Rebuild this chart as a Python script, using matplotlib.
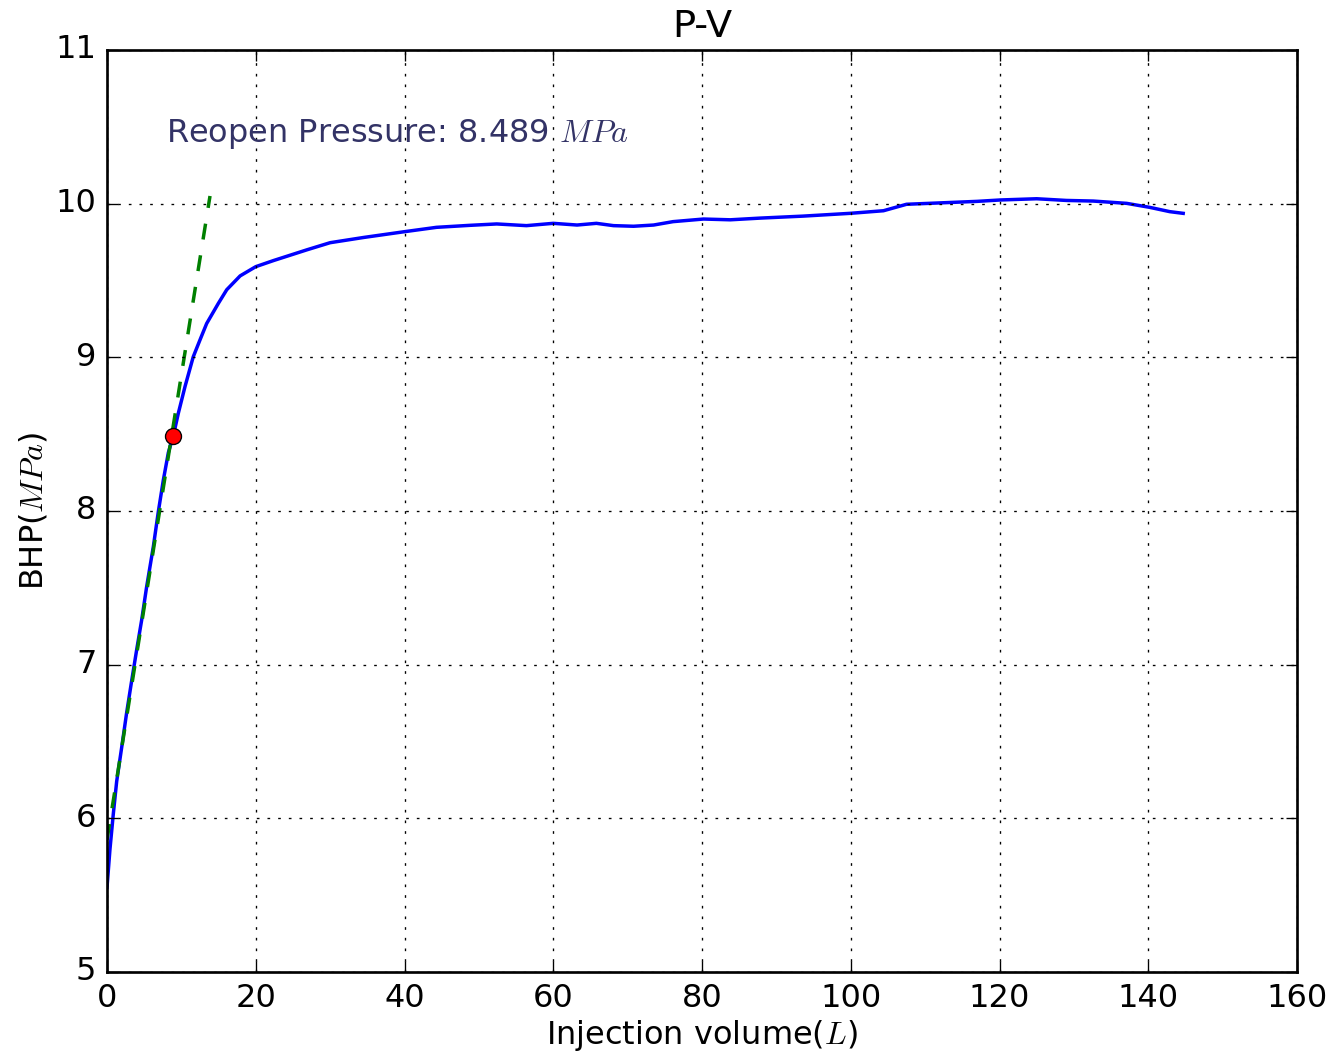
import numpy as np
import matplotlib
matplotlib.use('Agg')
import matplotlib.pyplot as plt

plt.style.use('classic')

# injection volume (L) and bottom hole pressure (MPa)
vol = [0.0, 0.4, 0.85, 1.3, 2.0, 2.65, 3.3, 4.0, 4.66, 5.33, 6.23, 6.9, 7.57,
       8.25, 8.92, 9.59, 10.49, 11.6, 12.5, 13.4, 14.97, 16.1, 17.9, 20.0,
       22.4, 23.3, 26.9, 30.0, 34.5, 39.9, 44.3, 48.8, 52.4, 56.4,
       60.0, 63.2, 65.8, 68.1, 70.8, 73.5, 76.1, 80.2, 83.8, 87.8, 93.6, 99.9,
       104.4, 107.5, 112.5, 117.0, 120.1, 125.0, 129.0, 132.6, 137.1, 140.2,
       142.9, 144.7]
bhp = [5.55, 5.80, 6.03, 6.24, 6.47, 6.69, 6.89, 7.10, 7.29, 7.507, 7.768,
       7.995, 8.20, 8.38, 8.49, 8.636, 8.81, 9.004, 9.113, 9.22, 9.351, 9.44,
       9.53, 9.59, 9.63, 9.644, 9.70, 9.746, 9.78, 9.817, 9.846, 9.859,
       9.868, 9.857, 9.872, 9.861, 9.872, 9.857, 9.853, 9.861, 9.883, 9.900,
       9.895, 9.906, 9.919, 9.937, 9.954, 9.996, 10.006, 10.015, 10.024, 10.032,
       10.021, 10.017, 10.002, 9.976, 9.948, 9.937]

# tangent line through the linear part
tan_x = [0.0, 13.85]
tan_y = [5.86, 10.05]

reopen_v = 8.92
reopen_p = 8.489

dpi = 192
fig = plt.figure(figsize=(1337 / dpi, 1055 / dpi), dpi=dpi, facecolor='white')
ax = fig.add_axes([107 / 1337, 83 / 1055, 1190 / 1337, 922 / 1055])

ax.plot(vol, bhp, 'b-', lw=1.3)
ax.plot(tan_x, tan_y, 'g--', lw=1.3)
ax.plot([reopen_v], [reopen_p], 'ro')
ax.text(8, 10.4, 'Reopen Pressure: %.3f $MPa$' % reopen_p, color='#333366')

ax.set_xlim(0, 160)
ax.set_ylim(5, 11)
ax.grid(True)
ax.set_title('P-V')
ax.set_xlabel('Injection volume($L$)', labelpad=1.5)
ax.set_ylabel('BHP($MPa$)', labelpad=2)

fig.savefig('out.png', dpi=dpi, facecolor='white')
